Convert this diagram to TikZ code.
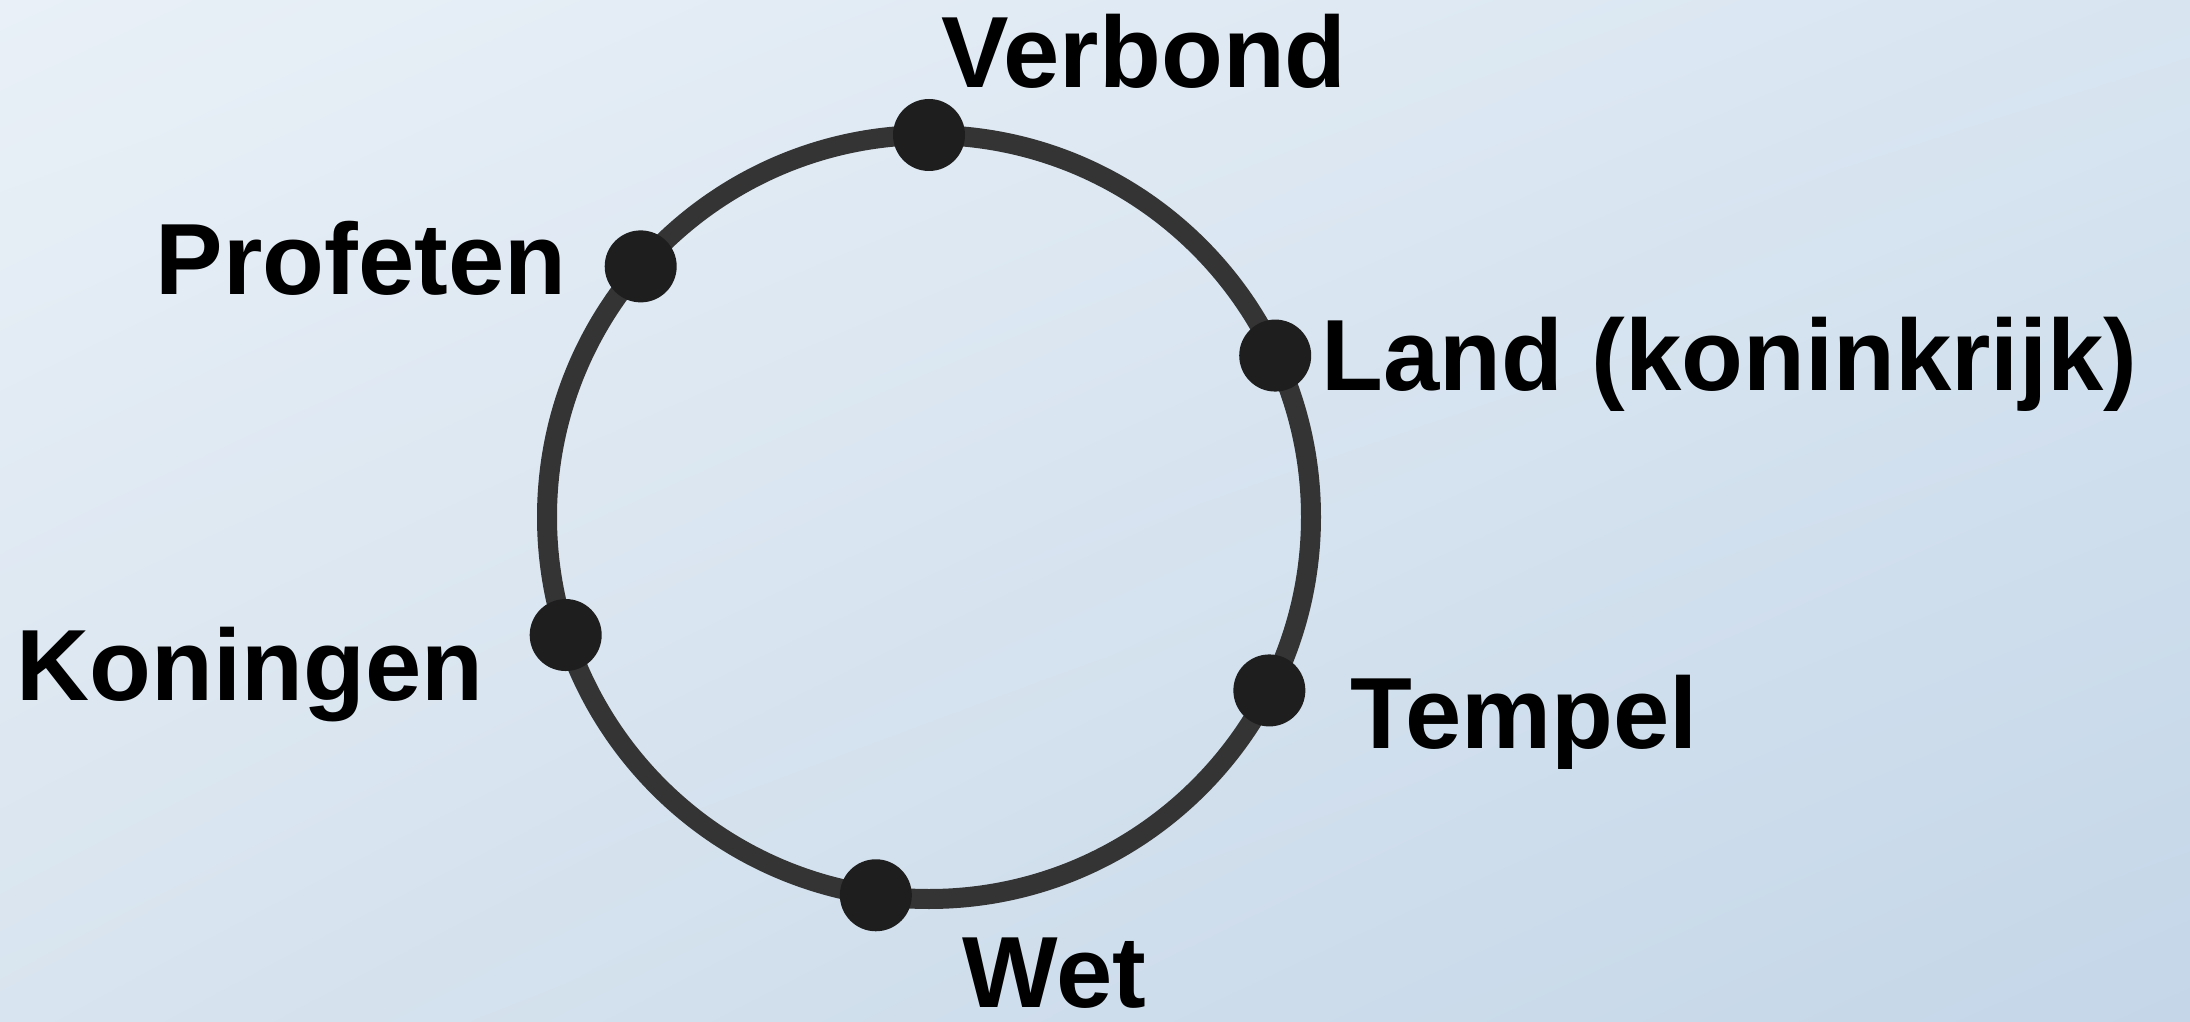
\documentclass[tikz,border=0pt]{standalone}
\usepackage{fontspec}
\setmainfont{Liberation Sans}
\usepackage{xcolor}
\usetikzlibrary{positioning,shadings}

\definecolor{bgul}{RGB}{233,240,247}
\definecolor{bgur}{RGB}{216,229,241}
\definecolor{bgll}{RGB}{216,228,239}
\definecolor{bglr}{RGB}{196,214,232}
\definecolor{ringgray}{RGB}{52,52,52}
\definecolor{dotblack}{RGB}{30,30,30}

\begin{document}
\begin{tikzpicture}[
    ring/.style={circle, draw=ringgray, line width=0.2cm, minimum size=7.64cm, inner sep=0pt, outer sep=0pt},
    dot/.style={circle, fill=dotblack, minimum size=0.72cm, inner sep=0pt},
    lbl/.style={font=\fontsize{28.8}{34}\selectfont\bfseries, inner sep=0pt, anchor=base west}
]

% Background
\shade[upper left=bgul, upper right=bgur, lower left=bgll, lower right=bglr] (0,0) rectangle (21.90,10.21);
\useasboundingbox (0,0) rectangle (21.90,10.21);

% Ring
\node[ring] (ring) at (9.29,5.04) {};

% Points on the ring
\node[dot] (verbond)  at (ring.90.3) {};
\node[dot] (profeten) at (ring.139.6) {};
\node[dot] (land)     at (ring.25.8) {};
\node[dot] (koningen) at (ring.198.2) {};
\node[dot] (tempel)   at (ring.-27.4) {};
\node[dot] (wet)      at (ring.262) {};

% Labels
\node[lbl] (verbondlbl)  at (9.41,9.33)  {Verbond};
\node[lbl] (profetenlbl) at (1.55,7.26)  {Profeten};
\node[lbl] (landlbl)     at (13.21,6.30) {Land (koninkrijk)};
\node[lbl] (koningenlbl) at (0.16,3.21)  {Koningen};
\node[lbl] (tempellbl)   at (13.50,2.73) {Tempel};
\node[lbl] (wetlbl)      at (9.62,0.14)  {Wet};

\end{tikzpicture}
\end{document}
